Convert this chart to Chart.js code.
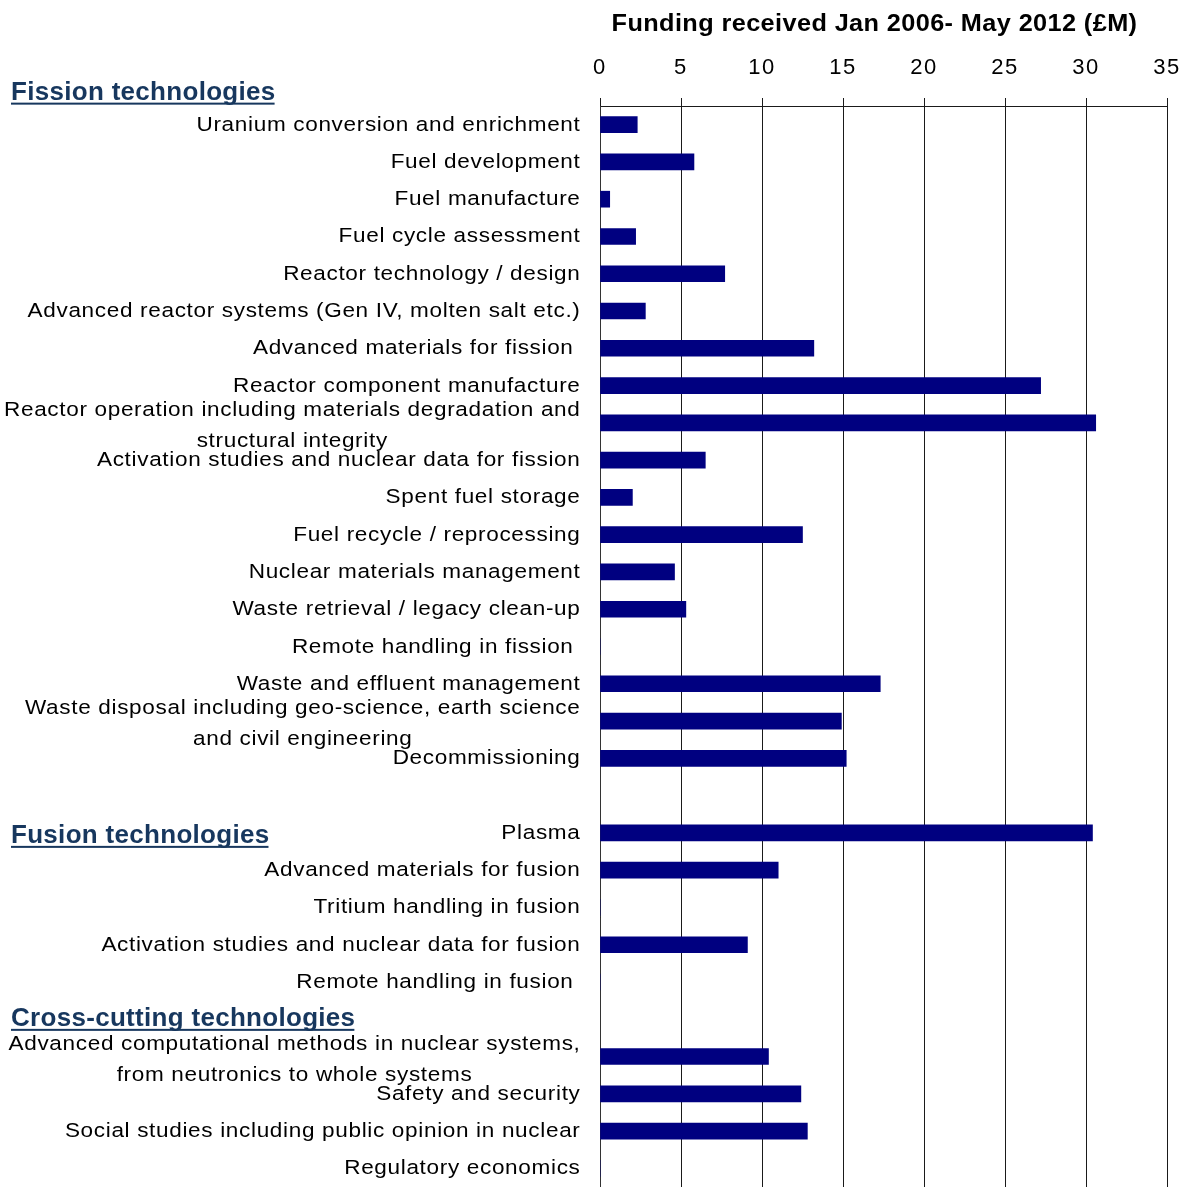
<!DOCTYPE html>
<html>
<head>
<meta charset="utf-8">
<script src="https://cdn.jsdelivr.net/npm/chart.js@4/dist/chart.umd.min.js"></script>
<style>
  html, body { margin: 0; padding: 0; background: #fff; }
  canvas { display: block; }
</style>
</head>
<body>
<canvas id="c" width="1190" height="1187"></canvas>
<script>
// Research areas, top to bottom ('' = spacer row, arrays = two-line labels)
const categories = [
  'Uranium conversion and enrichment',
  'Fuel development',
  'Fuel manufacture',
  'Fuel cycle assessment',
  'Reactor technology / design',
  'Advanced reactor systems (Gen IV, molten salt etc.)',
  'Advanced materials for fission ',
  'Reactor component manufacture',
  ['Reactor operation including materials degradation and', 'structural integrity'],
  'Activation studies and nuclear data for fission',
  'Spent fuel storage',
  'Fuel recycle / reprocessing',
  'Nuclear materials management',
  'Waste retrieval / legacy clean-up',
  'Remote handling in fission ',
  'Waste and effluent management',
  ['Waste disposal including geo-science, earth science', 'and civil engineering'],
  'Decommissioning',
  '',
  'Plasma',
  'Advanced materials for fusion',
  'Tritium handling in fusion',
  'Activation studies and nuclear data for fusion',
  'Remote handling in fusion ',
  '',
  ['Advanced computational methods in nuclear systems,', 'from neutronics to whole systems'],
  'Safety and security',
  'Social studies including public opinion in nuclear',
  'Regulatory economics'
];

// Funding received, £M
const funding = [
  2.3, 5.8, 0.6, 2.2, 7.7, 2.8, 13.2, 27.2, 30.6, 6.5,
  2.0, 12.5, 4.6, 5.3, 0, 17.3, 14.9, 15.2, null,
  30.4, 11.0, 0, 9.1, 0, null,
  10.4, 12.4, 12.8, 0
];

const xTickValues = [0, 5, 10, 15, 20, 25, 30, 35];
const axisTitle = 'Funding received Jan 2006- May 2012 (£M)';

const sectionTitles = ['Fission technologies', 'Fusion technologies', 'Cross-cutting technologies'];
const sectionRows = [0, 19, 24];

const FONT = '"Liberation Sans", Arial, sans-serif';
const STRETCH = 1.1;   // slightly widened lettering

function wideText(ctx, text, x, y, align) {
  const w = ctx.measureText(text).width * STRETCH;
  let left = x;
  if (align === 'right') left = x - w;
  else if (align === 'center') left = x - w / 2;
  ctx.save();
  ctx.translate(left, y);
  ctx.scale(STRETCH, 1);
  ctx.textAlign = 'left';
  ctx.fillText(text, 0, 0);
  ctx.restore();
  return w;
}

const rowLabels = {
  id: 'rowLabels',
  beforeDraw(chart) {
    chart.ctx.letterSpacing = '1.6px';
  },
  afterDraw(chart) {
    const ctx = chart.ctx;
    const yScale = chart.scales.y;
    const area = chart.chartArea;
    ctx.save();
    ctx.fillStyle = '#000';
    ctx.font = '20.5px ' + FONT;
    ctx.letterSpacing = '0.6px';
    ctx.textBaseline = 'alphabetic';
    const right = area.left - 19.5;
    categories.forEach((lab, i) => {
      const py = yScale.getPixelForValue(i);
      if (Array.isArray(lab)) {
        const w = wideText(ctx, lab[0], right, py - 7, 'right');
        wideText(ctx, lab[1], right - w / 2, py + 24, 'center');
      } else if (lab) {
        wideText(ctx, lab, right, py + 6, 'right');
      }
    });

    // axis title above the tick labels
    ctx.font = 'bold 23px ' + FONT;
    ctx.letterSpacing = '0.35px';
    wideText(ctx, axisTitle, (area.left + area.right) / 2 - 9, 31, 'center');

    // underlined section headings
    const headerOffsets = [-25, 10, 6.6];
    ctx.font = 'bold 26px ' + FONT;
    ctx.letterSpacing = '0.3px';
    ctx.fillStyle = '#17375E';
    ctx.textAlign = 'left';
    sectionTitles.forEach((t, k) => {
      const by = yScale.getPixelForValue(sectionRows[k]) + headerOffsets[k];
      ctx.fillText(t, 11, by);
      const w = ctx.measureText(t).width;
      ctx.fillRect(11, by + 3, w - 1, 2);
    });
    ctx.restore();
  }
};

new Chart(document.getElementById('c'), {
  type: 'bar',
  data: {
    labels: categories,
    datasets: [{
      data: funding,
      backgroundColor: '#000080',
      barThickness: 16,
      borderWidth: 0
    }]
  },
  options: {
    indexAxis: 'y',
    responsive: false,
    animation: false,
    devicePixelRatio: 1,
    layout: { padding: { left: 0, right: 23, top: 0, bottom: 0 } },
    plugins: {
      legend: { display: false },
      tooltip: { enabled: false }
    },
    scales: {
      x: {
        position: 'top',
        min: 0,
        max: 35,
        afterBuildTicks(scale) {
          scale.ticks = xTickValues.map(v => ({ value: v }));
        },
        afterFit(scale) {
          scale.height = 106;
          scale.paddingLeft = 0;
          scale.paddingRight = 0;
        },
        ticks: {
          color: '#000',
          font: { family: FONT, size: 22 },
          padding: 16.5,
          maxRotation: 0
        },
        grid: {
          color: '#1a1a1a',
          lineWidth: 1,
          tickLength: 8,
          drawTicks: true
        },
        border: { display: true, color: '#1a1a1a', width: 1 }
      },
      y: {
        type: 'category',
        afterFit(scale) { scale.width = 600; },
        ticks: { display: false },
        grid: { display: false, drawTicks: false },
        border: { display: true, color: '#333', width: 1 }
      }
    }
  },
  plugins: [rowLabels]
});
</script>
</body>
</html>
